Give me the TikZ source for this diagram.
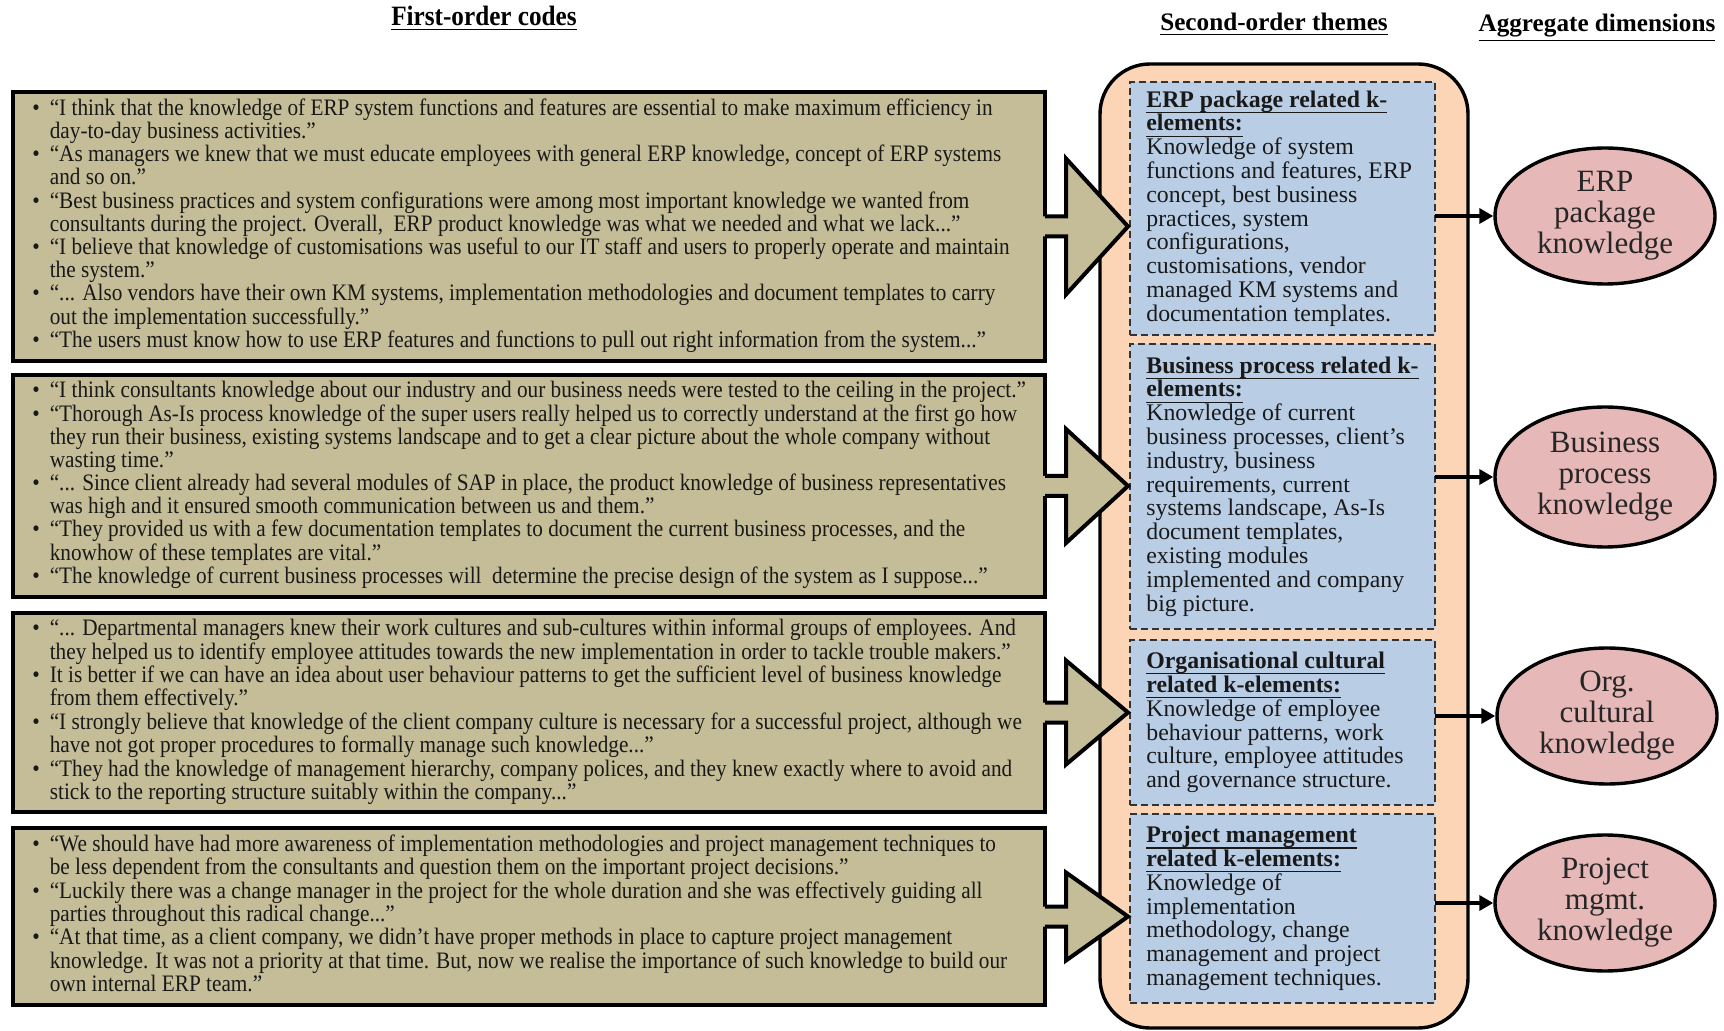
\documentclass[tikz,border=0pt]{standalone}
\usepackage{fontspec}
\setmainfont{Liberation Serif}
\newfontfamily\narrowfont[FakeStretch=0.9]{Liberation Serif}
\usetikzlibrary{shapes.geometric,arrows.meta,calc}

\definecolor{codefill}{RGB}{196,189,151}
\definecolor{panelfill}{RGB}{251,213,181}
\definecolor{themefill}{RGB}{185,205,229}
\definecolor{dimfill}{RGB}{230,185,184}

\newcommand{\quotelist}[1]{\begin{tabular}{@{}c@{\hspace{5pt}}l@{}}#1\end{tabular}}
\newcommand{\themehead}[1]{\leavevmode\setbox0\hbox{\textbf{#1}}\rlap{\rule[-2.9pt]{\wd0}{0.6pt}}\box0}
\newcommand{\tightlines}{\lineskiplimit=-6pt\relax}

\tikzset{
	heading/.style={inner sep=0pt, anchor=base, font=\fontsize{12.6}{14}\selectfont\bfseries},
	codebox/.style={draw=black, line width=2pt, fill=codefill, minimum width=516pt, inner sep=0pt, outer sep=0pt},
	codetext/.style={anchor=west, inner sep=0pt, text=black!90, font=\narrowfont\fontsize{11.8}{11.3}\selectfont},
	panel/.style={draw=black, line width=1.7pt, fill=panelfill, rounded corners=25pt, minimum width=184pt, minimum height=482pt, inner sep=0pt},
	themebox/.style={draw=black!80, line width=1pt, dash pattern=on 3.5pt off 2pt, fill=themefill, minimum width=152.5pt, inner sep=0pt, outer sep=0pt},
	themetext/.style={anchor=west, inner sep=0pt, align=left, text=black!90, font={\fontsize{11.9}{11.9}\selectfont\tightlines}},
	dimnode/.style={ellipse, draw=black, line width=1.7pt, fill=dimfill, minimum width=110pt, minimum height=68pt, inner sep=0pt, align=center, text=black!85, font=\fontsize{15.5}{15.5}\selectfont},
	dimarrow/.style={line width=2pt, -{Triangle[length=7pt,width=7.5pt]}}
}

\begin{document}
\begin{tikzpicture}[x=0.5pt, y=-0.5pt]
	\useasboundingbox (0,0) rectangle (1724,1031);

	\node[heading, font=\narrowfont\fontsize{14}{16}\selectfont\bfseries] (h1) at (484,26) {\underline{First-order codes}};
	\node[heading] (h2) at (1274,31) {\underline{Second-order themes}};
	\node[heading] (h3) at (1597,32) {\underline{Aggregate dimensions}};

	\node[codebox, minimum height=134.5pt] (q1) at (529,226.5) {};
	\node[codebox, minimum height=111pt] (q2) at (529,486) {};
	\node[codebox, minimum height=99.5pt] (q3) at (529,712.5) {};
	\node[codebox, minimum height=88.5pt] (q4) at (529,916.5) {};

	\node[codetext] (t1) at ($(q1.west)+(19,0)$) {\quotelist{
		\textbullet & “I think that the knowledge of ERP system functions and features are essential to make maximum efficiency in\\
		& day-to-day business activities.”\\
		\textbullet & “As managers we knew that we must educate employees with general ERP knowledge, concept of ERP systems\\
		& and so on.”\\
		\textbullet & “Best business practices and system configurations were among most important knowledge we wanted from\\
		& consultants during the project. Overall,\ \ ERP product knowledge was what we needed and what we lack...”\\
		\textbullet & “I believe that knowledge of customisations was useful to our IT staff and users to properly operate and maintain\\
		& the system.”\\
		\textbullet & “... Also vendors have their own KM systems, implementation methodologies and document templates to carry\\
		& out the implementation successfully.”\\
		\textbullet & “The users must know how to use ERP features and functions to pull out right information from the system...”}};
	\node[codetext] (t2) at ($(q2.west)+(19,0)$) {\quotelist{
		\textbullet & “I think consultants knowledge about our industry and our business needs were tested to the ceiling in the project.”\\
		\textbullet & “Thorough As-Is process knowledge of the super users really helped us to correctly understand at the first go how\\
		& they run their business, existing systems landscape and to get a clear picture about the whole company without\\
		& wasting time.”\\
		\textbullet & “... Since client already had several modules of SAP in place, the product knowledge of business representatives\\
		& was high and it ensured smooth communication between us and them.”\\
		\textbullet & “They provided us with a few documentation templates to document the current business processes, and the\\
		& knowhow of these templates are vital.”\\
		\textbullet & “The knowledge of current business processes will\ \ determine the precise design of the system as I suppose...”}};
	\node[codetext] (t3) at ($(q3.west)+(19,0)$) {\quotelist{
		\textbullet & “... Departmental managers knew their work cultures and sub-cultures within informal groups of employees. And\\
		& they helped us to identify employee attitudes towards the new implementation in order to tackle trouble makers.”\\
		\textbullet & It is better if we can have an idea about user behaviour patterns to get the sufficient level of business knowledge\\
		& from them effectively.”\\
		\textbullet & “I strongly believe that knowledge of the client company culture is necessary for a successful project, although we\\
		& have not got proper procedures to formally manage such knowledge...”\\
		\textbullet & “They had the knowledge of management hierarchy, company polices, and they knew exactly where to avoid and\\
		& stick to the reporting structure suitably within the company...”}};
	\node[codetext] (t4) at ($(q4.west)+(19,0)$) {\quotelist{
		\textbullet & “We should have had more awareness of implementation methodologies and project management techniques to\\
		& be less dependent from the consultants and question them on the important project decisions.”\\
		\textbullet & “Luckily there was a change manager in the project for the whole duration and she was effectively guiding all\\
		& parties throughout this radical change...”\\
		\textbullet & “At that time, as a client company, we didn’t have proper methods in place to capture project management\\
		& knowledge. It was not a priority at that time. But, now we realise the importance of such knowledge to build our\\
		& own internal ERP team.”}};

	\node[panel] (panel) at (1284,546) {};

	\node[themebox, minimum height=126.5pt] (b1) at (1282.5,208.5) {};
	\node[themebox, minimum height=142.5pt] (b2) at (1282.5,486.5) {};
	\node[themebox, minimum height=82.5pt] (b3) at (1282.5,722.5) {};
	\node[themebox, minimum height=94.5pt] (b4) at (1282.5,908.5) {};

	\node[themetext] (s1) at ($(b1.west)+(16,0)$) {\themehead{ERP package related k-}\\\themehead{elements:}\\Knowledge of system\\functions and features, ERP\\concept, best business\\practices, system\\configurations,\\customisations, vendor\\managed KM systems and\\documentation templates.};
	\node[themetext] (s2) at ($(b2.west)+(16,0)$) {\themehead{Business process related k-}\\\themehead{elements:}\\Knowledge of current\\business processes, client's\\industry, business\\requirements, current\\systems landscape, As-Is\\document templates,\\existing modules\\implemented and company\\big picture.};
	\node[themetext] (s3) at ($(b3.west)+(16,0)$) {\themehead{Organisational cultural}\\\themehead{related k-elements:}\\Knowledge of employee\\behaviour patterns, work\\culture, employee attitudes\\and governance structure.};
	\node[themetext] (s4) at ($(b4.west)+(16,0)$) {\themehead{Project management}\\\themehead{related k-elements:}\\Knowledge of\\implementation\\methodology, change\\management and project\\management techniques.};

	\foreach \i/\h in {1/68,2/57,3/52,4/44} {
		\fill[codefill] ($(q\i.east)+(-3,-10)$) -- ($(q\i.east)+(21,-10)$) -- ($(q\i.east)+(21,-\h)$) -- ($(q\i.east)+(83,0)$) -- ($(q\i.east)+(21,\h)$) -- ($(q\i.east)+(21,10)$) -- ($(q\i.east)+(-3,10)$) -- cycle;
		\draw[line width=2pt] ($(q\i.east)+(0,-10)$) -- ($(q\i.east)+(21,-10)$) -- ($(q\i.east)+(21,-\h)$) -- ($(q\i.east)+(83,0)$) -- ($(q\i.east)+(21,\h)$) -- ($(q\i.east)+(21,10)$) -- ($(q\i.east)+(0,10)$);
	}

	\node[dimnode] (e1) at (1605,216) {ERP\\package\\knowledge};
	\node[dimnode, minimum height=70pt] (e2) at (1605,477) {Business\\process\\knowledge};
	\node[dimnode] (e3) at (1607,716) {Org.\\cultural\\knowledge};
	\node[dimnode] (e4) at (1605,903) {Project\\mgmt.\\knowledge};

	\foreach \i in {1,...,4}
		\draw[dimarrow] (b\i.east |- e\i.west) -- (e\i.west);
\end{tikzpicture}
\end{document}
